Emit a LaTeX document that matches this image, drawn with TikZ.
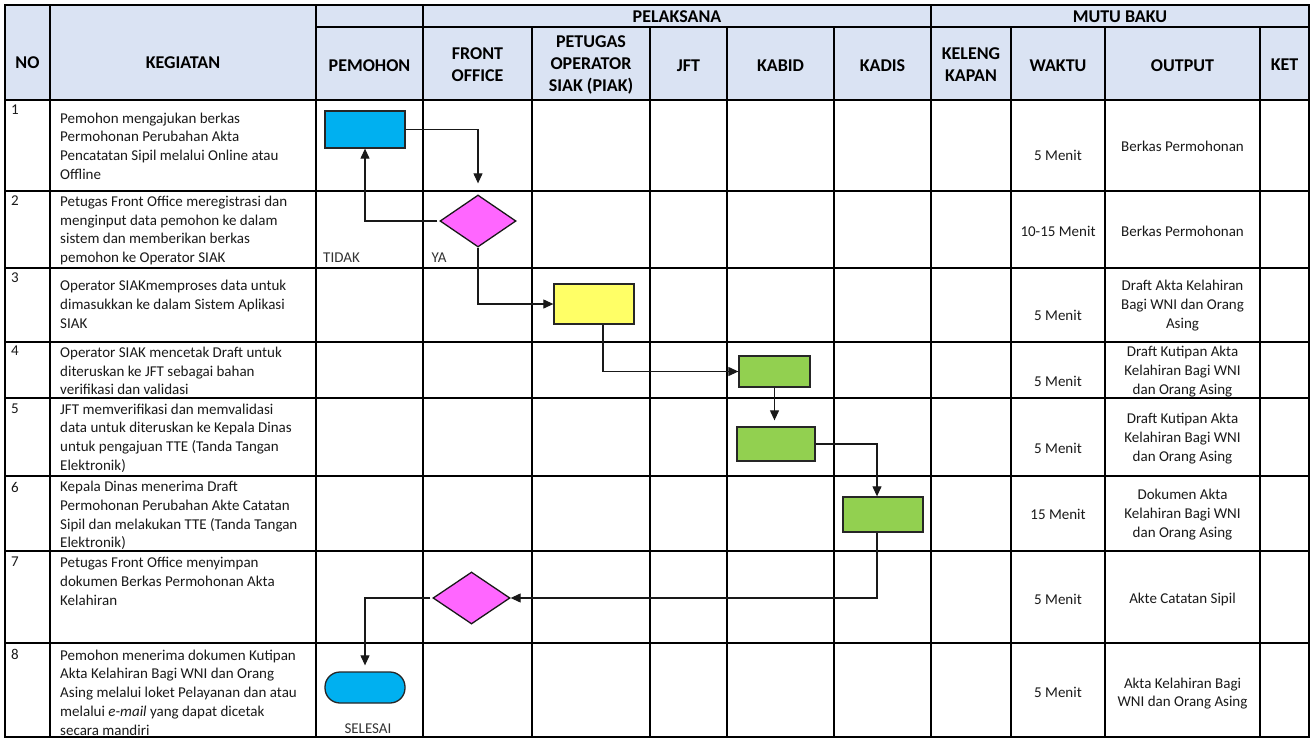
\documentclass[tikz,border=0pt]{standalone}
\usepackage{fontspec}
\setmainfont{Carlito}
\usetikzlibrary{arrows.meta,shapes.geometric}
\definecolor{hdrfill}{HTML}{DAE3F3}
\definecolor{startblue}{HTML}{00B0F0}
\definecolor{decmag}{HTML}{FF66FF}
\definecolor{procyel}{HTML}{FFFF66}
\definecolor{procgrn}{HTML}{92D050}
\definecolor{inktxt}{HTML}{1A1A1A}
\begin{document}
\begin{tikzpicture}[x=1pt,y=-1pt,
  gridline/.style={line width=2.8pt,line cap=rect},
  hd/.style={font=\bfseries\fontsize{18}{22}\selectfont,align=center,inner sep=0pt,text=black},
  txt/.style={font=\fontsize{15}{18.7}\selectfont,align=left,anchor=west,inner sep=0pt,text=inktxt},
  num/.style={font=\fontsize{15}{18}\selectfont,anchor=west,inner sep=0pt,text=inktxt},
  ctr/.style={font=\fontsize{15}{18.7}\selectfont,align=center,inner sep=0pt,text=inktxt},
  proc/.style={draw=black!85,line width=1.3pt,rectangle,inner sep=0pt},
  decision/.style={draw=black!90,line width=1.3pt,diamond,fill=decmag,inner sep=0pt},
  flow/.style={line width=1.1pt,draw=black!90,-{Triangle[length=10pt,width=9pt]}},
  lbl/.style={font=\fontsize{15}{16}\selectfont,inner sep=0pt,text=black!80}
]
\useasboundingbox[fill=white] (0,0) rectangle (1313,743);

% header background
\fill[hdrfill] (5,5) rectangle (1309,100);

% table grid
\foreach \yy in {5,100,191,268,342,398,476,551,643,737}
  \draw[gridline] (5,\yy) -- (1309,\yy);
\draw[gridline] (316,27) -- (1309,27);
\foreach \xx in {5,50,316,423,931,1309}
  \draw[gridline] (\xx,5) -- (\xx,737);
\foreach \xx in {532,650,727,834,1011,1105,1260}
  \draw[gridline] (\xx,27) -- (\xx,737);

% header labels
\node[hd] (hNo) at (27.5,63) {NO};
\node[hd] (hKeg) at (183,63) {KEGIATAN};
\node[hd] (hPel) at (677,17) {PELAKSANA};
\node[hd] (hMutu) at (1120,17) {MUTU BAKU};
\node[hd] (hPem) at (369.5,66) {PEMOHON};
\node[hd] (hFO) at (477.5,65) {FRONT\\OFFICE};
\node[hd] (hOp) at (591,65) {PETUGAS\\OPERATOR\\SIAK (PIAK)};
\node[hd] (hJft) at (688.5,66) {JFT};
\node[hd] (hKabid) at (780.5,66) {KABID};
\node[hd] (hKadis) at (882.5,66) {KADIS};
\node[hd] (hKel) at (971,65) {KELENG\\KAPAN};
\node[hd] (hWaktu) at (1058,66) {WAKTU};
\node[hd] (hOut) at (1182.5,66) {OUTPUT};
\node[hd] (hKet) at (1284.5,65) {KET};

% row numbers
\node[num] (n1) at (11,110) {1};
\node[num] (n2) at (11,201) {2};
\node[num] (n3) at (11,278) {3};
\node[num] (n4) at (11,351) {4};
\node[num] (n5) at (11,409) {5};
\node[num] (n6) at (11,487) {6};
\node[num] (n7) at (11,562) {7};
\node[num] (n8) at (11,654) {8};

% activities
\node[txt] (k1) at (60,146) {Pemohon mengajukan berkas\\Permohonan Perubahan Akta\\Pencatatan Sipil melalui Online atau\\Offline};
\node[txt] (k2) at (60,230.5) {Petugas Front Office meregistrasi dan\\menginput data pemohon ke dalam\\sistem dan memberikan berkas\\pemohon ke Operator SIAK};
\node[txt] (k3) at (60,304.5) {Operator SIAKmemproses data untuk\\dimasukkan ke dalam Sistem Aplikasi\\SIAK};
\node[txt] (k4) at (60,371) {Operator SIAK mencetak Draft untuk\\diteruskan ke JFT sebagai bahan\\verifikasi dan validasi};
\node[txt] (k5) at (60,438) {JFT memverifikasi dan memvalidasi\\data untuk diteruskan ke Kepala Dinas\\untuk pengajuan TTE (Tanda Tangan\\Elektronik)};
\node[txt] (k6) at (60,515.5) {Kepala Dinas menerima Draft\\Permohonan Perubahan Akte Catatan\\Sipil dan melakukan TTE (Tanda Tangan\\Elektronik)};
\node[txt] (k7) at (60,581.5) {Petugas Front Office menyimpan\\dokumen Berkas Permohonan Akta\\Kelahiran};
\node[txt] (k8) at (60,692.5) {Pemohon menerima dokumen Kutipan\\Akta Kelahiran Bagi WNI dan Orang\\Asing melalui loket Pelayanan dan atau\\melalui \textit{e-mail} yang dapat dicetak\\secara mandiri};

% time column
\node[ctr] (w1) at (1058,155) {5 Menit};
\node[ctr] (w2) at (1058,231) {10-15 Menit};
\node[ctr] (w3) at (1058,315) {5 Menit};
\node[ctr] (w4) at (1058,381) {5 Menit};
\node[ctr] (w5) at (1058,448) {5 Menit};
\node[ctr] (w6) at (1058,514) {15 Menit};
\node[ctr] (w7) at (1058,599) {5 Menit};
\node[ctr] (w8) at (1058,692) {5 Menit};

% output column
\node[ctr] (o1) at (1182.5,146) {Berkas Permohonan};
\node[ctr] (o2) at (1182.5,231) {Berkas Permohonan};
\node[ctr] (o3) at (1182.5,305.5) {Draft Akta Kelahiran\\Bagi WNI dan Orang\\Asing};
\node[ctr] (o4) at (1182.5,371.5) {Draft Kutipan Akta\\Kelahiran Bagi WNI\\dan Orang Asing};
\node[ctr] (o5) at (1182.5,438.5) {Draft Kutipan Akta\\Kelahiran Bagi WNI\\dan Orang Asing};
\node[ctr] (o6) at (1182.5,514.5) {Dokumen Akta\\Kelahiran Bagi WNI\\dan Orang Asing};
\node[ctr] (o7) at (1182.5,599) {Akte Catatan Sipil};
\node[ctr] (o8) at (1182.5,693.5) {Akta Kelahiran Bagi\\WNI dan Orang Asing};

% flow symbols
\node[proc,fill=startblue,minimum width=80pt,minimum height=37pt] (b1) at (365,129.5) {};
\node[decision,minimum width=76pt,minimum height=52pt] (d1) at (478,221) {};
\node[proc,fill=procyel,minimum width=80pt,minimum height=40pt] (y1) at (594,304) {};
\node[proc,fill=procgrn,minimum width=71pt,minimum height=31pt] (g1) at (774.5,371.5) {};
\node[proc,fill=procgrn,minimum width=78pt,minimum height=34pt] (g2) at (776,444) {};
\node[proc,fill=procgrn,minimum width=80pt,minimum height=35pt] (g3) at (883,514.5) {};
\node[decision,minimum width=77pt,minimum height=52pt] (d2) at (471.5,598) {};
\node[proc,fill=startblue,rounded corners=15pt,minimum width=80pt,minimum height=31pt] (e1) at (365,687.5) {};

% branch labels
\node[lbl] (tTidak) at (341.5,258) {TIDAK};
\node[lbl] (tYa) at (439,258) {YA};
\node[lbl] (tSelesai) at (368,729) {SELESAI};

% connectors
\draw[flow] (b1.east) -| ([yshift=11pt]d1.north);
\draw[flow] ([xshift=-2pt]d1.west) -| (b1.south);
\draw[flow] (d1.south) |- (y1.west);
\draw[flow] ([xshift=9pt]y1.south) |- (g1.west);
\draw[flow] (g1.south) -- ([yshift=6pt]g1.south |- g2.north);
\draw[flow] (g2.east) -| ([xshift=-6pt]g3.north);
\draw[flow] ([xshift=-6pt]g3.south) |- (d2.east);
\draw[flow] ([xshift=-2pt]d2.west) -| ([yshift=6pt]e1.north);
\end{tikzpicture}
\end{document}
